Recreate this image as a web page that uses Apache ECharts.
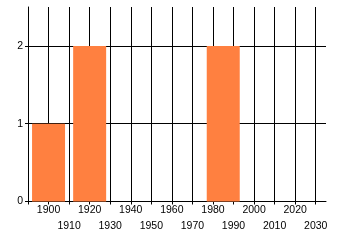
<!DOCTYPE html>
<html>
<head>
<meta charset="utf-8">
<script src="https://cdn.jsdelivr.net/npm/echarts@6/dist/echarts.min.js"></script>
<style>html,body{margin:0;padding:0;background:#fff}#c{width:340px;height:245px}</style>
</head>
<body>
<div id="c"></div>
<script>
const years = [1900, 1920, 1985];
const counts = [1, 2, 2];
const yTicks = [0, 1, 2];
const xLabelsRow1 = [1900, 1920, 1940, 1960, 1980, 2000, 2020];
const xLabelsRow2 = [1910, 1930, 1950, 1970, 1990, 2010, 2030];
const xMin = 1890, xMax = 2035, xTickMax = 2030, xStep = 10;
const yMax = 2.5;

const chart = echarts.init(document.getElementById('c'), null, {renderer: 'canvas'});
const font = {fontFamily: 'Liberation Sans', fontSize: 10.5, color: '#000'};
const pxPerYear = 298 / (xMax - xMin);
const grid2Right = 340 - 28 - pxPerYear * (xTickMax - xMin);

function labelAxis(values, margin) {
  return {
    type: 'value', gridIndex: 1, position: 'bottom', offset: 0,
    min: xMin, max: xTickMax, interval: xStep,
    axisLine: {show: false}, axisTick: {show: false}, splitLine: {show: false},
    axisLabel: Object.assign({
      margin: margin, customValues: values, showMaxLabel: true, showMinLabel: true, hideOverlap: false,
      formatter: v => String(v)
    }, font)
  };
}

chart.setOption({
  animation: false,
  grid: [
    {left: 28, right: 14, top: 7, bottom: 43.5},
    {left: 28, right: grid2Right, top: 7, bottom: 43.5}
  ],
  xAxis: [
    {
      type: 'value', gridIndex: 0, min: xMin, max: xMax, interval: xStep,
      axisLine: {show: true, lineStyle: {color: '#000', width: 1}},
      axisTick: {show: false}, axisLabel: {show: false}, splitLine: {show: false}
    },
    {
      type: 'value', gridIndex: 1, position: 'bottom', min: xMin, max: xTickMax, interval: xStep,
      axisLine: {show: false},
      axisTick: {show: true, length: 3, lineStyle: {color: '#000'}},
      splitLine: {show: true, lineStyle: {color: '#000', width: 1}},
      axisLabel: {show: false}
    },
    labelAxis(xLabelsRow1, 3.5),
    labelAxis(xLabelsRow2, 19)
  ],
  yAxis: [
    {
      type: 'value', gridIndex: 0, min: 0, max: yMax, interval: 1,
      axisLine: {show: true, lineStyle: {color: '#000', width: 1}},
      axisTick: {show: true, length: 3, lineStyle: {color: '#000'}, customValues: yTicks},
      splitLine: {show: true, showMaxLine: true, lineStyle: {color: '#000', width: 1}},
      axisLabel: Object.assign({margin: 5, showMaxLabel: true, customValues: yTicks}, font)
    },
    {type: 'value', gridIndex: 1, min: 0, max: 1, show: false}
  ],
  series: [{
    type: 'bar', xAxisIndex: 0, yAxisIndex: 0,
    barWidth: 33,
    itemStyle: {color: '#FF8040'},
    data: years.map((y, i) => [y, counts[i]])
  }]
});
</script>
</body>
</html>
